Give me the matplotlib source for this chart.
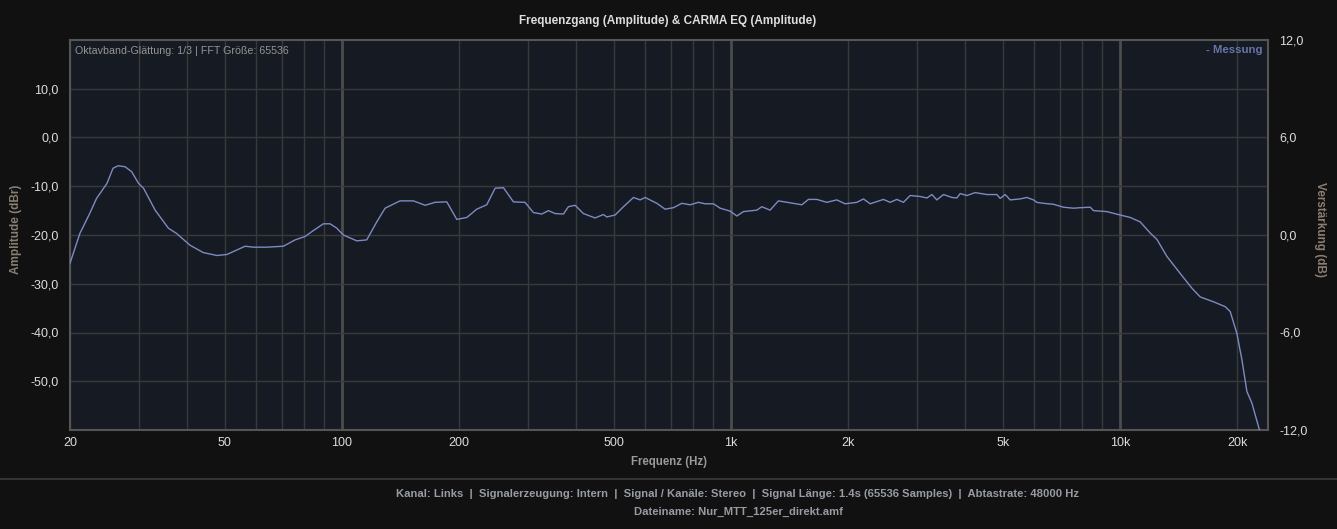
import matplotlib
matplotlib.use("Agg")
import matplotlib.pyplot as plt
from matplotlib.ticker import FuncFormatter, FixedLocator, NullLocator
from matplotlib.lines import Line2D

# ---- data ----
freq_hz = [20.0, 21.2, 22.5, 23.4, 24.9, 25.8, 26.6, 27.7, 28.8, 30.0,
           30.9, 33.1, 35.8, 37.6, 40.7, 44.0, 47.7, 50.6, 56.4, 59.2,
           64.1, 70.7, 75.8, 80.4, 84.4, 89.6, 93.2, 97.0, 100.8, 109.2,
           115.8, 122.9, 129.1, 141.0, 152.6, 163.6, 173.5, 186.0, 197.3, 209.4,
           222.1, 235.6, 247.6, 260.1, 275.9, 295.6, 310.5, 326.4, 339.4, 353.2,
           370.9, 382.0, 397.5, 417.4, 447.3, 470.0, 479.5, 503.6, 529.1, 561.4,
           584.0, 601.5, 644.6, 677.0, 711.1, 747.3, 785.0, 824.6, 858.0, 901.3,
           937.6, 994.8, 1035, 1076, 1165, 1200, 1260, 1324, 1447, 1521,
           1581, 1662, 1763, 1870, 1965, 2106, 2190, 2279, 2464, 2565,
           2668, 2775, 2887, 3062, 3188, 3284, 3381, 3516, 3697, 3806,
           3882, 4038, 4242, 4546, 4823, 4918, 5066, 5218, 5535, 5759,
           5989, 6110, 6354, 6742, 7154, 7591, 7898, 8381, 8546, 9247,
           10002, 10616, 11262, 11952, 12436, 13196, 14277, 15294, 16066, 17380,
           18630, 19188, 19964, 20567, 21183, 21822, 22818, 23460]
amplitude_dbr = [-25.8, -19.7, -15.5, -12.5, -9.4, -6.3, -5.8, -6.0, -7.0, -9.4,
                 -10.4, -14.9, -18.6, -19.7, -22.1, -23.6, -24.2, -24.0, -22.3, -22.5,
                 -22.5, -22.3, -21.0, -20.3, -19.1, -17.7, -17.7, -18.6, -20.0, -21.2,
                 -21.0, -17.3, -14.5, -13.0, -13.0, -13.9, -13.3, -13.2, -16.8, -16.4,
                 -14.7, -13.8, -10.4, -10.3, -13.2, -13.3, -15.4, -15.7, -15.0, -15.6,
                 -15.7, -14.2, -13.9, -15.6, -16.5, -15.8, -16.3, -15.9, -14.2, -12.3,
                 -12.8, -12.3, -13.5, -14.7, -14.4, -13.5, -13.8, -13.3, -13.6, -13.6,
                 -14.5, -15.1, -16.1, -15.2, -14.9, -14.2, -14.9, -13.0, -13.5, -13.8,
                 -12.7, -12.7, -13.3, -12.8, -13.6, -13.3, -12.6, -13.6, -12.7, -13.3,
                 -12.7, -13.3, -11.9, -12.1, -12.4, -11.7, -12.8, -11.7, -12.3, -12.4,
                 -11.5, -11.9, -11.3, -11.7, -11.7, -12.5, -11.7, -12.8, -12.6, -12.3,
                 -12.8, -13.3, -13.5, -13.7, -14.3, -14.5, -14.4, -14.3, -15.0, -15.2,
                 -15.9, -16.4, -17.3, -19.6, -20.9, -24.4, -27.9, -30.9, -32.7, -33.7,
                 -34.7, -35.7, -40.2, -45.6, -52.1, -54.5, -60.0, -63.0]

x_tick_values = [20, 50, 100, 200, 500, 1000, 2000, 5000, 10000, 20000]
x_tick_labels = ["20", "50", "100", "200", "500", "1k", "2k", "5k", "10k", "20k"]
left_ticks = [10, 0, -10, -20, -30, -40, -50]
right_ticks = [12, 6, 0, -6, -12]

title = "Frequenzgang (Amplitude) & CARMA EQ (Amplitude)"
info_text = "Oktavband-Glättung: 1/3 | FFT Größe: 65536"
legend_text = "- Messung"
footer_1 = ("Kanal: Links  |  Signalerzeugung: Intern  |  Signal / Kanäle: Stereo  |  "
            "Signal Länge: 1.4s (65536 Samples)  |  Abtastrate: 48000 Hz")
footer_2 = "Dateiname: Nur_MTT_125er_direkt.amf"

# ---- style ----
FIG_BG = "#111111"
AX_BG = "#161a23"
GRID = "#393939"
GRID_MAJOR = "#4c4c4c"
CURVE = "#7d8bc2"
TICK_COL = "#dcdcdc"
plt.rcParams["font.family"] = ["Liberation Sans", "DejaVu Sans"]

W, H = 1337, 529
fig = plt.figure(figsize=(W / 100, H / 100), dpi=100, facecolor=FIG_BG)
ax = fig.add_axes([70 / W, 1 - 430 / H, (1268 - 70) / W, (430 - 40) / H])
ax.set_facecolor(AX_BG)
ax.set_xscale("log")
ax.set_xlim(20, 24000)
ax.set_ylim(-60, 20)

# vertical grid lines (log decades)
for dec in [10, 100, 1000, 10000]:
    for m in range(1, 10):
        f = dec * m
        if 20 <= f <= 24000:
            if m == 1:
                ax.axvline(f, color=GRID_MAJOR, lw=2.0, zorder=1)
            else:
                ax.axvline(f, color=GRID, lw=1.0, zorder=1)
for yv in range(-50, 20, 10):
    ax.axhline(yv, color=GRID, lw=1.0, zorder=1)

ax.plot(freq_hz, amplitude_dbr, color=CURVE, lw=1.0, zorder=3, clip_on=True)

fmt = FuncFormatter(lambda v, p: f"{v:.1f}".replace(".", ","))
ax.xaxis.set_major_locator(FixedLocator(x_tick_values))
ax.set_xticklabels(x_tick_labels)
ax.xaxis.set_minor_locator(NullLocator())
ax.yaxis.set_major_locator(FixedLocator(left_ticks))
ax.yaxis.set_major_formatter(fmt)
ax.tick_params(axis="both", length=0, colors=TICK_COL, labelsize=9)
ax.tick_params(axis="x", pad=5)
ax.tick_params(axis="y", pad=8)

for s in ax.spines.values():
    s.set_color("#555555")
    s.set_linewidth(1.5)

ax2 = ax.twinx()
ax2.set_ylim(-12, 12)
ax2.yaxis.set_major_locator(FixedLocator(right_ticks))
ax2.yaxis.set_major_formatter(fmt)
ax2.tick_params(axis="y", length=0, colors=TICK_COL, labelsize=9, pad=8)
for s in ax2.spines.values():
    s.set_visible(False)

ax.set_xlabel("Frequenz (Hz)", color="#9a9a9a", fontsize=8.3, fontweight="bold", labelpad=5)
fig.text(16 / W, 1 - 229 / H, "Amplitude (dBr)", rotation=90, ha="center", va="center",
         color="#8a7e72", fontsize=8.5, fontweight="bold")
fig.text(1320 / W, 1 - 229 / H, "Verstärkung (dB)", rotation=270, ha="center", va="center",
         color="#8a7e72", fontsize=8.5, fontweight="bold")

fig.text(668 / W, 1 - 21 / H, title, ha="center", va="center", color="#dddddd",
         fontsize=8.5, fontweight="bold")
fig.text(75 / W, 1 - 51 / H, info_text, ha="left", va="center",
         color="#959595", fontsize=7.7)
fig.text(1262 / W, 1 - 50 / H, legend_text, ha="right", va="center", color="#6675aa",
         fontsize=8.2, fontweight="bold")

fig.add_artist(Line2D([0, 1], [1 - 479 / H, 1 - 479 / H], transform=fig.transFigure,
                      color="#3a3a3a", lw=1.2))
fig.text(738 / W, 1 - 494 / H, footer_1, ha="center", va="center", color="#979ba3",
         fontsize=8.1, fontweight="bold")
fig.text(738 / W, 1 - 512 / H, footer_2, ha="center", va="center", color="#979ba3",
         fontsize=8.1, fontweight="bold")

fig.savefig("out.png", dpi=100, facecolor=FIG_BG)
